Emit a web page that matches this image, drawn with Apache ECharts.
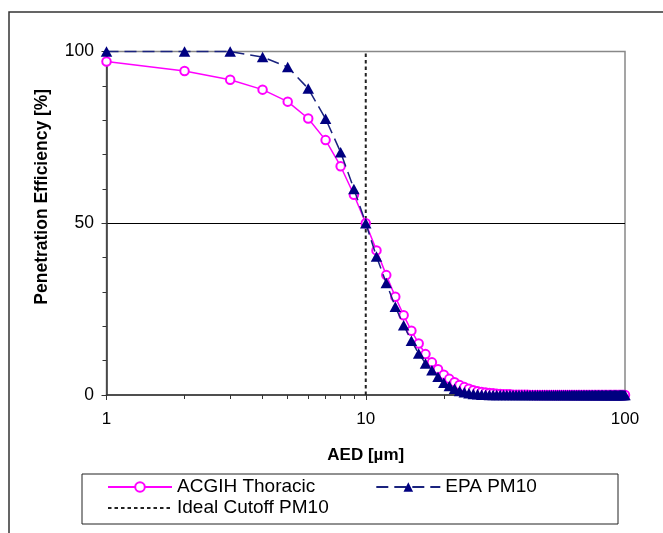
<!DOCTYPE html>
<html>
<head>
<meta charset="utf-8">
<script src="https://cdn.jsdelivr.net/npm/echarts@6/dist/echarts.min.js"></script>
<style>
html,body{margin:0;padding:0;background:#fff;}
#chart{width:663px;height:533px;}
</style>
</head>
<body>
<div id="chart"></div>
<script>
// AED particle sizes [µm]
var aed = [1,2,3,4,5,6,7,8,9,10,
  11,12,13,14,15,16,17,18,19,20,
  21,22,23,24,25,26,27,28,29,30,
  31,32,33,34,35,36,37,38,39,40,
  41,42,43,44,45,46,47,48,49,50,
  51,52,53,54,55,56,57,58,59,60,
  61,62,63,64,65,66,67,68,69,70,
  71,72,73,74,75,76,77,78,79,80,
  81,82,83,84,85,86,87,88,89,90,
  91,92,93,94,95,96,97,98,99,100];

// ACGIH Thoracic penetration [%]
var acgih = [97.1,94.3,91.8,88.9,85.4,80.5,74.2,66.6,58.3,50.0,
  42.1,34.9,28.6,23.2,18.7,15.0,11.9,9.5,7.5,5.9,
  4.7,3.7,2.9,2.3,1.8,1.4,1.1,0.9,0.7,0.6,
  0.5,0.4,0.3,0.2,0.2,0.2,0.1,0.1,0.1,0.1,
  0.05,0.04,0.03,0.03,0.02,0.02,0.01,0.01,0.01,0.01,
  0,0,0,0,0,0,0,0,0,0,
  0,0,0,0,0,0,0,0,0,0,
  0,0,0,0,0,0,0,0,0,0,
  0,0,0,0,0,0,0,0,0,0,
  0,0,0,0,0,0,0,0,0,0];

// EPA PM10 penetration [%]
var epa = [100,100,100,98.4,95.5,89.2,80.4,70.7,60.0,50.0,
  40.3,32.6,25.7,20.3,15.8,12.1,9.2,7.2,5.3,3.6,
  2.6,1.8,1.2,0.8,0.5,0.3,0.2,0.1,0.05,0,
  0,0,0,0,0,0,0,0,0,0,
  0,0,0,0,0,0,0,0,0,0,
  0,0,0,0,0,0,0,0,0,0,
  0,0,0,0,0,0,0,0,0,0,
  0,0,0,0,0,0,0,0,0,0,
  0,0,0,0,0,0,0,0,0,0,
  0,0,0,0,0,0,0,0,0,0];

// Ideal cutoff PM10 (vertical line at 10 µm)
var cutoffX = [10,10];
var cutoffY = [0,100];

var xMajorTicks = [1,10,100];
var xMinorTicks = [2,3,4,5,6,7,8,9,20,30,40,50,60,70,80,90];

var seriesNames = ['ACGIH Thoracic','EPA PM10','Ideal Cutoff PM10'];

function pairs(xs, ys){ var o=[]; for(var i=0;i<xs.length;i++) o.push([xs[i], ys[i]]); return o; }

var FONT = 'Arial, "Liberation Sans", sans-serif';

var chart = echarts.init(document.getElementById('chart'), null, {renderer:'canvas'});
chart.setOption({
  backgroundColor:'#fff',
  animation:false,
  textStyle:{fontFamily:FONT},
  graphic:[
    {type:'rect', z:-10, silent:true, shape:{x:9,y:12,width:720,height:620},
     style:{fill:'none', stroke:'#333', lineWidth:1.5}},
    {type:'rect', z:-5, silent:true, shape:{x:82,y:474,width:536,height:50},
     style:{fill:'#fff', stroke:'#222', lineWidth:1}}
  ],
  legend:[
    {data:[seriesNames[0], seriesNames[1]], left:107, top:477, padding:0,
     itemWidth:64, itemHeight:12, itemGap:60, orient:'horizontal',
     textStyle:{fontSize:19, color:'#000', fontFamily:FONT, lineHeight:20}},
    {data:[{name:seriesNames[2], itemStyle:{opacity:0}}], left:107, top:498, padding:0,
     itemWidth:64, itemHeight:12, itemGap:60,
     textStyle:{fontSize:19, color:'#000', fontFamily:FONT, lineHeight:20}}
  ],
  grid:{left:106.5, right:38, top:51.5, bottom:138, show:true,
        borderColor:'#888', borderWidth:1.5, backgroundColor:'#fff'},
  xAxis:[
    {type:'log', logBase:10, min:1, max:100,
     name:'AED [µm]', nameLocation:'middle', nameGap:52,
     nameTextStyle:{fontSize:17, fontWeight:'bold', color:'#000', fontFamily:FONT},
     axisLine:{lineStyle:{color:'#333', width:1.5}},
     axisTick:{show:true, length:5, customValues:xMajorTicks, lineStyle:{color:'#333', width:1}},
     axisLabel:{fontSize:17, color:'#000', margin:16, customValues:xMajorTicks, fontFamily:FONT},
     splitLine:{show:false}, minorTick:{show:false}},
    {type:'log', logBase:10, min:1, max:100, position:'bottom', offset:0,
     axisLine:{show:false},
     axisTick:{show:true, length:4, customValues:xMinorTicks, lineStyle:{color:'#333', width:1}},
     axisLabel:{show:false}, splitLine:{show:false}}
  ],
  yAxis:{type:'value', min:0, max:100, interval:50,
     name:'Penetration Efficiency [%]', nameLocation:'middle', nameGap:55,
     nameTextStyle:{fontSize:17.5, fontWeight:'bold', color:'#000', fontFamily:FONT, padding:[0,0,0,53]},
     axisLine:{show:true, lineStyle:{color:'#333', width:1.5}},
     axisTick:{show:true, length:5, lineStyle:{color:'#333', width:1}},
     minorTick:{show:true, splitNumber:5, length:4, lineStyle:{color:'#333', width:1}},
     axisLabel:{fontSize:17.5, color:'#000', margin:12.5, fontFamily:FONT},
     splitLine:{show:true, showMinLine:false, showMaxLine:false, lineStyle:{color:'#000', width:1}}},
  series:[
    {name:seriesNames[0], type:'line', data:pairs(aed, acgih), clip:false,
     symbol:'emptyCircle', symbolSize:8.5, color:'#FF00FF',
     lineStyle:{color:'#FF00FF', width:1.5},
     itemStyle:{color:'#FF00FF', borderColor:'#FF00FF', borderWidth:1.5},
     z:3},
    {name:seriesNames[1], type:'line', data:pairs(aed, epa), clip:false,
     symbol:'triangle', symbolSize:[11.5,10.5], color:'#000080',
     lineStyle:{color:'#1a237e', width:1.5, type:[12,6]},
     itemStyle:{color:'#000080'},
     z:4},
    {name:seriesNames[2], type:'line', data:pairs(cutoffX, cutoffY), clip:false,
     symbol:'none', color:'#222',
     lineStyle:{color:'#222', width:2, type:[3.5,3]},
     z:2}
  ]
});
</script>
</body>
</html>
